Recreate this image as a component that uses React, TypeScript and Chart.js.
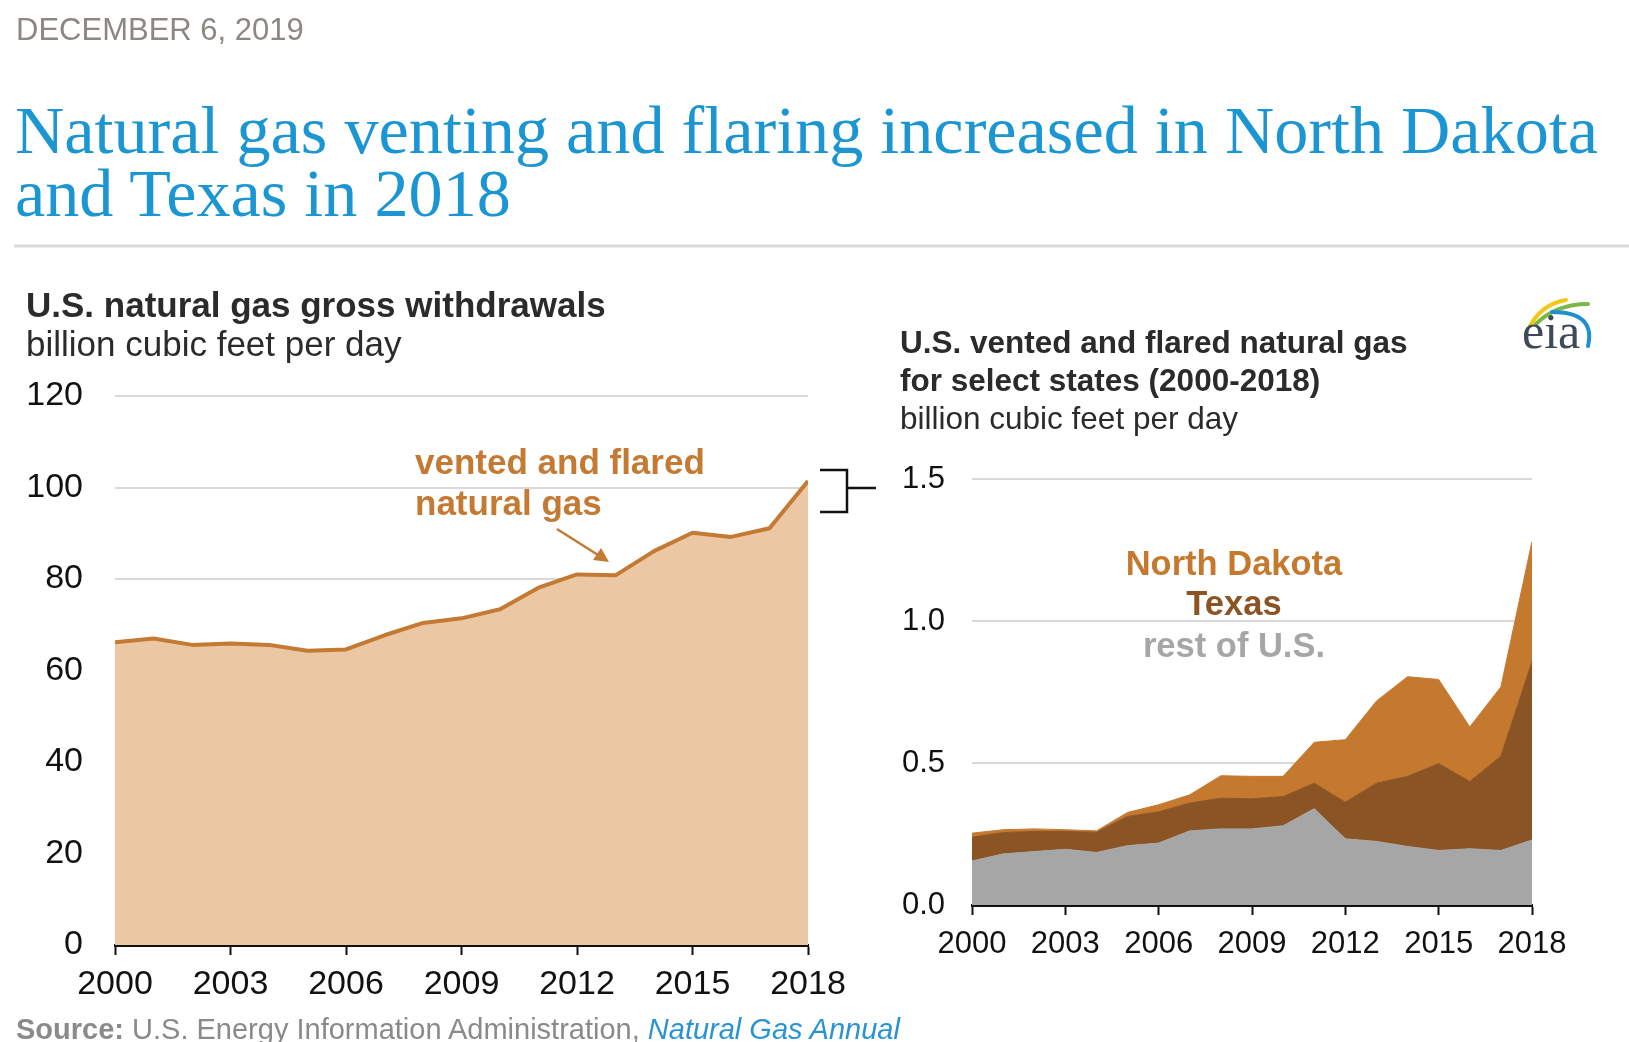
import React, { useEffect, useRef } from "react";
import { Chart, registerables } from "chart.js";

Chart.register(...registerables);

const years = [2000, 2001, 2002, 2003, 2004, 2005, 2006, 2007, 2008, 2009, 2010, 2011, 2012, 2013, 2014, 2015, 2016, 2017, 2018];
const grossWithdrawals = [66.2, 67.0, 65.6, 65.9, 65.6, 64.3, 64.6, 67.7, 70.4, 71.4, 73.4, 78.1, 81.0, 80.8, 86.1, 90.1, 89.2, 91.1, 101.4];
const restOfUS = [0.155, 0.18, 0.188, 0.196, 0.185, 0.209, 0.218, 0.261, 0.268, 0.268, 0.279, 0.339, 0.233, 0.224, 0.206, 0.192, 0.198, 0.192, 0.229];
const texas = [0.084, 0.075, 0.071, 0.063, 0.071, 0.103, 0.11, 0.098, 0.108, 0.106, 0.103, 0.09, 0.129, 0.205, 0.247, 0.306, 0.237, 0.332, 0.628];
const northDakota = [0.014, 0.01, 0.009, 0.006, 0.005, 0.014, 0.025, 0.029, 0.079, 0.079, 0.071, 0.144, 0.22, 0.289, 0.351, 0.296, 0.192, 0.244, 0.423];
const xTickYears = [2000, 2003, 2006, 2009, 2012, 2015, 2018];
const leftYTicks = [0, 20, 40, 60, 80, 100, 120];
const rightYTicks = [0, 0.5, 1.0, 1.5];

const SANS = "'Liberation Sans', Arial, Helvetica, sans-serif";
const SERIF = "'Liberation Serif', 'Times New Roman', serif";

type Box = { L: number; T: number; W: number; H: number; left: number; top: number; right: number; bottom: number };

const leftBox: Box = { L: 0, T: 320, W: 870, H: 690, left: 115, top: 396, right: 808, bottom: 945 };
const rightBox: Box = { L: 880, T: 390, W: 720, H: 610, left: 972, top: 479, right: 1532, bottom: 905 };

function xScale(box: Box, fontSize: number, pad: number) {
  return {
    type: "linear" as const,
    min: 2000,
    max: 2018,
    z: 1,
    afterBuildTicks: (s: any) => {
      s.ticks = xTickYears.map((v) => ({ value: v }));
    },
    afterFit: (s: any) => {
      s.height = box.T + box.H - box.bottom;
    },
    grid: { drawOnChartArea: false, drawTicks: true, tickLength: 10, tickWidth: 2, tickColor: "#111" },
    border: { display: true, color: "#111", width: 3 },
    ticks: {
      autoSkip: false,
      maxRotation: 0,
      padding: pad,
      color: "#111",
      font: { family: SANS, size: fontSize },
      callback: (v: any) => String(v),
    },
  };
}

function yScale(box: Box, min: number, max: number, tickList: number[], fontSize: number, pad: number, digits: number, stacked: boolean) {
  return {
    type: "linear" as const,
    min,
    max,
    stacked,
    afterBuildTicks: (s: any) => {
      s.ticks = tickList.map((v) => ({ value: v }));
    },
    afterFit: (s: any) => {
      s.width = box.left - box.L;
    },
    grid: {
      drawTicks: false,
      lineWidth: 2,
      color: (ctx: any) => (ctx.tick && ctx.tick.value === 0 ? "rgba(0,0,0,0)" : "#d9d9d9"),
    },
    border: { display: false },
    ticks: {
      padding: pad,
      color: "#111",
      font: { family: SANS, size: fontSize },
      callback: (v: any) => Number(v).toFixed(digits),
    },
  };
}

function padding(box: Box) {
  return { left: 0, top: box.top - box.T, right: box.L + box.W - box.right, bottom: 0 };
}

export default function App() {
  const leftRef = useRef<HTMLCanvasElement | null>(null);
  const rightRef = useRef<HTMLCanvasElement | null>(null);

  useEffect(() => {
    const charts: Chart[] = [];
    if (leftRef.current) {
      charts.push(
        new Chart(leftRef.current, {
          type: "line",
          data: {
            datasets: [
              {
                data: years.map((x, i) => ({ x, y: grossWithdrawals[i] })),
                fill: "origin",
                backgroundColor: "#EBC7A3",
                borderColor: "#C47A33",
                borderWidth: 4,
                pointRadius: 0,
                tension: 0,
                borderJoinStyle: "round",
              },
            ],
          },
          options: {
            animation: false,
            responsive: false,
            maintainAspectRatio: false,
            layout: { padding: padding(leftBox) },
            plugins: { legend: { display: false }, tooltip: { enabled: false } },
            scales: {
              x: xScale(leftBox, 34, 9) as any,
              y: yScale(leftBox, 0, 120, leftYTicks, 34, 32, 0, false) as any,
            },
          },
        })
      );
    }
    if (rightRef.current) {
      const mk = (vals: number[], color: string, fill: any) => ({
        data: years.map((x, i) => ({ x, y: vals[i] })),
        fill,
        backgroundColor: color,
        borderColor: color,
        borderWidth: 1,
        pointRadius: 0,
        tension: 0,
      });
      charts.push(
        new Chart(rightRef.current, {
          type: "line",
          data: {
            datasets: [
              mk(restOfUS, "#A6A6A6", "origin"),
              mk(texas, "#8B5424", "-1"),
              mk(northDakota, "#C5792F", "-1"),
            ],
          },
          options: {
            animation: false,
            responsive: false,
            maintainAspectRatio: false,
            layout: { padding: padding(rightBox) },
            plugins: { legend: { display: false }, tooltip: { enabled: false } },
            scales: {
              x: xScale(rightBox, 31, 11) as any,
              y: yScale(rightBox, 0, 1.5, rightYTicks, 31, 27, 1, true) as any,
            },
          },
        })
      );
    }
    return () => charts.forEach((c) => c.destroy());
  }, []);

  const canvasStyle = (b: Box): React.CSSProperties => ({
    position: "absolute",
    left: b.L,
    top: b.T,
    width: b.W,
    height: b.H,
  });

  return (
    <div style={{ position: "absolute", left: 0, top: 0, width: 1629, height: 1042, background: "#fff", overflow: "hidden" }}>
      <canvas ref={leftRef} width={leftBox.W} height={leftBox.H} style={canvasStyle(leftBox)} />
      <canvas ref={rightRef} width={rightBox.W} height={rightBox.H} style={canvasStyle(rightBox)} />
      <svg width={1629} height={1042} style={{ position: "absolute", left: 0, top: 0, pointerEvents: "none" }}>
        <text x={16} y={40} fontFamily={SANS} fontSize={31} fill="#8c8782">DECEMBER 6, 2019</text>
        <text x={15} y={153} fontFamily={SERIF} fontSize={68.2} fill="#1b96d3">Natural gas venting and flaring increased in North Dakota</text>
        <text x={15} y={216} fontFamily={SERIF} fontSize={68.2} fill="#1b96d3">and Texas in 2018</text>
        <line x1={14} x2={1629} y1={246} y2={246} stroke="#d9d9d9" strokeWidth={3} />

        <text x={26} y={317} fontFamily={SANS} fontSize={35} fontWeight="bold" fill="#2b2b2b">U.S. natural gas gross withdrawals</text>
        <text x={26} y={356} fontFamily={SANS} fontSize={35} fill="#2b2b2b">billion cubic feet per day</text>

        <text x={900} y={353} fontFamily={SANS} fontSize={31.5} fontWeight="bold" fill="#2b2b2b">U.S. vented and flared natural gas</text>
        <text x={900} y={391} fontFamily={SANS} fontSize={31.5} fontWeight="bold" fill="#2b2b2b">for select states (2000-2018)</text>
        <text x={900} y={429} fontFamily={SANS} fontSize={31.5} fill="#2b2b2b">billion cubic feet per day</text>

        <text x={415} y={474} fontFamily={SANS} fontSize={35} fontWeight="bold" fill="#C47A33">vented and flared</text>
        <text x={415} y={515} fontFamily={SANS} fontSize={35} fontWeight="bold" fill="#C47A33">natural gas</text>
        <line x1={557} y1={529} x2={598} y2={555} stroke="#C47A33" strokeWidth={2.5} />
        <polygon points="609,562 593,560 601,548" fill="#C47A33" />

        <path d="M820,470 H847 V512 H820 M847,488 H876" fill="none" stroke="#111" strokeWidth={2.5} />

        <text x={1234} y={575} textAnchor="middle" fontFamily={SANS} fontSize={34.5} fontWeight="bold" fill="#C5792F">North Dakota</text>
        <text x={1234} y={615} textAnchor="middle" fontFamily={SANS} fontSize={34.5} fontWeight="bold" fill="#8B5424">Texas</text>
        <text x={1234} y={657} textAnchor="middle" fontFamily={SANS} fontSize={34.5} fontWeight="bold" fill="#A6A6A6">rest of U.S.</text>

        <path d="M1530,326 Q1542,304 1566,300" fill="none" stroke="#f2c619" strokeWidth={4} strokeLinecap="round" />
        <path d="M1536,324 Q1556,304 1588,304" fill="none" stroke="#7ab648" strokeWidth={4} strokeLinecap="round" />
        <path d="M1552,312 Q1596,312 1588,346" fill="none" stroke="#1e8fd0" strokeWidth={4} strokeLinecap="round" />
        <text x={1522} y={348} fontFamily={SERIF} fontSize={50} fill="#3f4a58">eia</text>

        <text x={16} y={1039} fontFamily={SANS} fontSize={29} fill="#8a8a8a">
          <tspan fontWeight="bold">Source:</tspan>
          <tspan> U.S. Energy Information Administration, </tspan>
          <tspan fontStyle="italic" fill="#2a93d5">Natural Gas Annual</tspan>
        </text>
      </svg>
    </div>
  );
}
